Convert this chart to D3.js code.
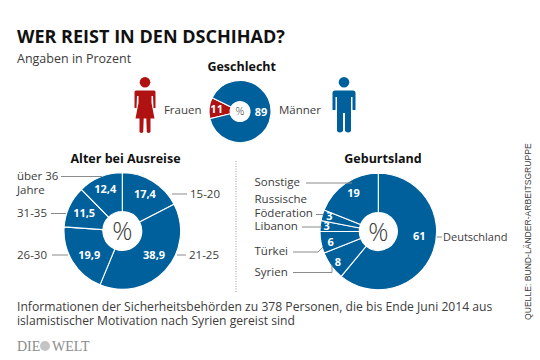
<!DOCTYPE html>
<html lang="de">
<head>
<meta charset="UTF-8">
<title>Wer reist in den Dschihad?</title>
<script src="https://d3js.org/d3.v7.min.js"></script>
<style>
  html, body { margin: 0; padding: 0; background: #fff; }
  text { font-family: "Open Sans", sans-serif; fill: #3c3c3c; }
  .head { font-weight: 700; fill: #111; }
  .val { font-weight: 700; fill: #fff; font-size: 11px; }
  .lead { fill: none; stroke: #8a8a8a; stroke-width: 1; }
</style>
</head>
<body>
<div id="chart"></div>
<script>
// values
var genderCats = ["Frauen", "Männer"];
var genderVals = [11, 89];
var ageCats = ["15-20", "21-25", "26-30", "31-35", "über 36 Jahre"];
var ageVals = [17.4, 38.9, 19.9, 11.5, 12.4];
var ageLabels = ["17,4", "38,9", "19,9", "11,5", "12,4"];
var landCats = ["Deutschland", "Syrien", "Türkei", "Libanon", "Russische Föderation", "Sonstige"];
var landVals = [61, 8, 6, 3, 3, 19];

var blue = "#00609c", red = "#b01212";

var svg = d3.select("#chart").append("svg")
    .attr("width", 540).attr("height", 360)
    .style("display", "block");

function text(x, y, s, size, cls, anchor) {
    return svg.append("text").attr("x", x).attr("y", y)
        .attr("font-size", size).attr("class", cls || null)
        .attr("text-anchor", anchor || "start").text(s);
}

// one pie, clockwise from startDeg
function donut(cx, cy, r, hole, vals, startDeg, colors, pctSize) {
    var g = svg.append("g").attr("transform", "translate(" + cx + "," + cy + ")");
    var start = startDeg * Math.PI / 180;
    var pie = d3.pie().sort(null).startAngle(start).endAngle(start + 2 * Math.PI);
    var arcs = pie(vals);
    var arc = d3.arc().innerRadius(hole).outerRadius(r);
    g.selectAll("path").data(arcs).enter().append("path")
        .attr("d", arc)
        .attr("fill", function(d, i) { return colors(i); })
        .attr("stroke", "#fff").attr("stroke-width", 1.1);
    g.append("text").attr("text-anchor", "middle").attr("y", pctSize * 0.36)
        .attr("font-size", pctSize).attr("font-weight", 300).text("%");
    return { g: g, arcs: arcs };
}

// value labels along each slice's mid angle, offs nudges by hand
function valueLabels(p, labels, radii, offs) {
    p.arcs.forEach(function(d, i) {
        var a = (d.startAngle + d.endAngle) / 2 - Math.PI / 2;
        p.g.append("text").attr("class", "val").attr("text-anchor", "middle")
            .attr("x", Math.cos(a) * radii[i] + offs[i][0])
            .attr("y", Math.sin(a) * radii[i] + 4 + offs[i][1])
            .text(labels[i]);
    });
}

function lead(pts) {
    svg.append("path").attr("class", "lead").attr("d", d3.line()(pts));
}

// title block
text(17, 43, "WER REIST IN DEN DSCHIHAD?", 18.05, "head");
text(17, 63, "Angaben in Prozent", 12.5);

// gender
text(241.7, 70.5, "Geschlecht", 12.5, "head", "middle");
var pg = donut(240, 111.5, 31, 10, genderVals, 256.5, function(i) { return i === 0 ? red : blue; }, 11);
valueLabels(pg, ["11", "89"], [23.5, 21], [[0, 0], [21, -2]]);
pg.g.selectAll("text.val").filter(function(d, i) { return i === 1; })
    .attr("x", 21).attr("y", 4);
text(201.5, 113.5, genderCats[0], 11.5, null, "end");
text(279, 113.5, genderCats[1], 11.5);

// figures
function person(cx, color, skirt) {
    var g = svg.append("g").attr("fill", color);
    g.append("circle").attr("cx", cx).attr("cy", 82.3).attr("r", 5.3);
    var p = d3.path();
    if (skirt) {
        p.moveTo(cx - 9, 90.5); p.lineTo(cx + 9, 90.5);
        p.quadraticCurveTo(cx + 10.5, 90.5, cx + 10.5, 92);
        p.lineTo(cx + 10.5, 108); p.lineTo(cx + 8.5, 108); p.lineTo(cx + 8, 96);
        p.lineTo(cx + 6.5, 96); p.lineTo(cx + 6.5, 103);
        p.lineTo(cx + 9.5, 118.5); p.lineTo(cx + 5.5, 118.5); p.lineTo(cx + 5.5, 132);
        p.quadraticCurveTo(cx + 3.5, 134, cx + 1.8, 132);
        p.lineTo(cx + 1.3, 118.5); p.lineTo(cx - 1.3, 118.5); p.lineTo(cx - 1.8, 132);
        p.quadraticCurveTo(cx - 3.5, 134, cx - 5.5, 132);
        p.lineTo(cx - 5.5, 118.5); p.lineTo(cx - 9.5, 118.5);
        p.lineTo(cx - 6.5, 103); p.lineTo(cx - 6.5, 96); p.lineTo(cx - 8, 96);
        p.lineTo(cx - 8.5, 108); p.lineTo(cx - 10.5, 108); p.lineTo(cx - 10.5, 92);
        p.quadraticCurveTo(cx - 10.5, 90.5, cx - 9, 90.5);
    } else {
        p.moveTo(cx - 9, 90.5); p.lineTo(cx + 9, 90.5);
        p.quadraticCurveTo(cx + 11.5, 90.5, cx + 11.5, 93);
        p.lineTo(cx + 11.5, 110); p.lineTo(cx + 8.5, 110); p.lineTo(cx + 8.5, 97);
        p.lineTo(cx + 7, 97); p.lineTo(cx + 7, 131);
        p.quadraticCurveTo(cx + 4.5, 134, cx + 1, 131);
        p.lineTo(cx + 1, 113); p.lineTo(cx - 1, 113); p.lineTo(cx - 1, 131);
        p.quadraticCurveTo(cx - 4.5, 134, cx - 7, 131);
        p.lineTo(cx - 7, 97); p.lineTo(cx - 8.5, 97); p.lineTo(cx - 8.5, 110);
        p.lineTo(cx - 11.5, 110); p.lineTo(cx - 11.5, 93);
        p.quadraticCurveTo(cx - 11.5, 90.5, cx - 9, 90.5);
    }
    p.closePath();
    g.append("path").attr("d", p.toString());
}
person(145, red, true);
person(344, blue, false);

// age
text(125.5, 162.5, "Alter bei Ausreise", 12.5, "head", "middle");
var pa = donut(122.3, 231, 58.3, 19.5, ageVals, 0, function() { return blue; }, 25);
valueLabels(pa, ageLabels, [43.5, 35, 40, 42, 45], [[0, 0], [6, 0], [1, 3], [0, 0], [0, 0]]);
text(17, 180, "über 36", 11.5);
text(17, 193.5, "Jahre", 11.5);
text(190, 198, ageCats[0], 11.5);
text(189, 259, ageCats[1], 11.5);
text(17, 259, ageCats[2], 11.5);
text(17, 217, ageCats[3], 11.5);
lead([[61, 176.5], [102, 176.5]]);
lead([[172, 194], [187, 194]]);
lead([[177, 255], [186, 255]]);
lead([[52, 255], [68, 255]]);
lead([[51, 213.5], [66, 213.5]]);

// divider
svg.append("line").attr("x1", 236).attr("x2", 236).attr("y1", 161).attr("y2", 293)
    .attr("stroke", "#999").attr("stroke-dasharray", "1 1.5");

// birth country
text(383, 162.5, "Geburtsland", 12.5, "head", "middle");
var pl = donut(378.3, 231.5, 58.3, 19, landVals, 0, function() { return blue; }, 25);
valueLabels(pl, ["61", "8", "6", "3", "3", "19"], [40, 50, 48.5, 52, 51, 44],
    [[3.4, -8.6], [0, 1.3], [0, 1.6], [0, -0.8], [0, -1.5], [0, -2]]);
text(254.5, 186, landCats[5], 11.5);
text(254.5, 203, "Russische", 11.5);
text(254.5, 217, "Föderation", 11.5);
text(254.5, 229.5, landCats[3], 11.5);
text(254.5, 254.5, landCats[2], 11.5);
text(254.5, 276, landCats[1], 11.5);
text(443, 240.5, landCats[0], 11);
lead([[306, 183], [352, 183]]);
lead([[316, 214.5], [323, 214.5]]);
lead([[302, 227], [322, 227]]);
lead([[293, 252], [318, 252], [323, 247]]);
lead([[293, 272.5], [332, 272.5], [332, 265]]);
lead([[437, 237], [442, 237]]);

// source, rotated
svg.append("text").attr("transform", "translate(530.5,320) rotate(-90)")
    .attr("font-size", 8.6).style("font-family", "Liberation Sans")
    .text("QUELLE: BUND-LÄNDER-ARBEITSGRUPPE");

// footnote
text(17, 311, "Informationen der Sicherheitsbehörden zu 378 Personen, die bis Ende Juni 2014 aus", 12.15);
text(17, 325, "islamistischer Motivation nach Syrien gereist sind", 12.15);

// logo
svg.append("text").attr("x", 17).attr("y", 351).attr("font-size", 14)
    .style("font-family", "Liberation Serif").style("fill", "#8c8c8c").text("DIE");
svg.append("circle").attr("cx", 45).attr("cy", 346).attr("r", 5).attr("fill", "#c4c4c4");
svg.append("text").attr("x", 52).attr("y", 351).attr("font-size", 14)
    .style("font-family", "Liberation Serif").style("fill", "#8c8c8c").text("WELT");
</script>
</body>
</html>
